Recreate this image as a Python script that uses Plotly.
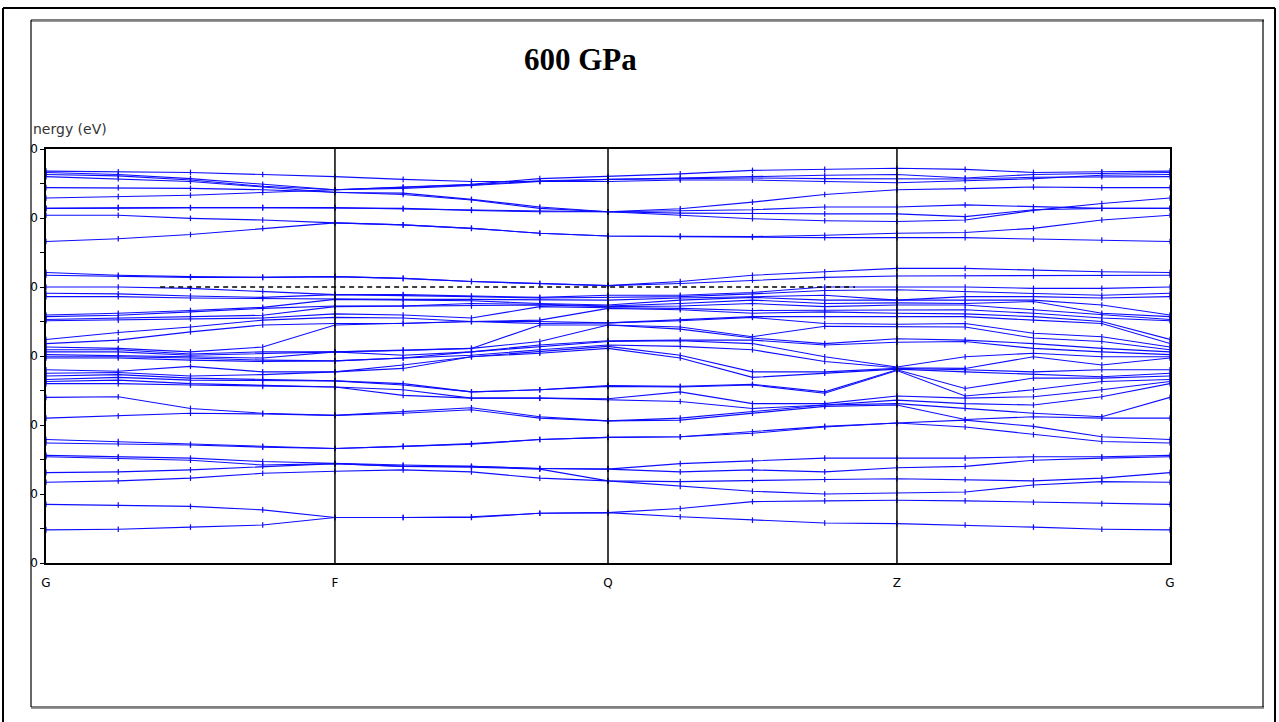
import plotly.graph_objects as go

# ---------------- data ----------------
title_text = "600 GPa"
y_title = "nergy (eV)"
kpoint_labels = ["G", "F", "Q", "Z", "G"]
kpoint_pos = [0.0, 1.0, 1.945, 2.945, 3.89]
k_grid = [0.0, 0.25, 0.5, 0.75, 1.0, 1.236, 1.4725, 1.709, 1.945,
          2.195, 2.445, 2.695, 2.945, 3.181, 3.4175, 3.654, 3.89]
fermi_level = 0.0
fermi_k_extent = [0.395, 2.80]
energy_ticks = [-40, -30, -20, -10, 0, 10, 20]
energy_ticktext = ["0", "0", "0", "0", "0", "0", "0"]

# conduction bands (eV), one list per band along k_grid
c01 = [16.8, 16.7, 16.6, 16.3, 16.0, 15.6, 15.3, 15.3, 15.3, 15.5, 15.5, 15.3, 15.1, 15.4, 15.7, 16.2, 16.3]
c02 = [16.6, 16.3, 15.7, 14.9, 14.1, 14.5, 14.9, 15.7, 16.0, 16.4, 16.9, 17.05, 17.2, 17.05, 16.6, 16.7, 16.8]
c03 = [16.3, 16.1, 15.5, 14.6, 14.1, 14.4, 14.8, 15.4, 15.6, 15.8, 16.0, 16.2, 16.3, 15.8, 16.3, 16.5, 16.6]
c04 = [16.0, 15.7, 15.3, 14.5, 13.7, 13.6, 12.7, 11.6, 10.9, 11.35, 12.3, 13.4, 14.1, 14.25, 14.5, 14.4, 14.4]
c05 = [14.4, 14.4, 14.3, 14.1, 13.7, 13.4, 12.6, 11.4, 10.9, 11.1, 11.2, 11.6, 11.6, 11.9, 11.6, 11.4, 11.4]
c06 = [12.9, 13.1, 13.3, 13.7, 14.1, 14.3, 14.7, 15.3, 15.6, 15.7, 15.8, 15.7, 15.65, 15.65, 15.9, 16.0, 16.0]
c07 = [11.4, 11.5, 11.5, 11.5, 11.5, 11.3, 11.2, 11.0, 10.9, 10.7, 10.6, 10.6, 10.6, 10.2, 11.2, 11.4, 11.4]
c08 = [11.4, 11.5, 11.5, 11.5, 11.5, 11.4, 11.1, 10.9, 10.9, 10.4, 9.9, 9.6, 9.5, 9.7, 11.1, 12.1, 12.9]
c09 = [10.4, 10.4, 9.95, 9.7, 9.3, 9.0, 8.5, 7.8, 7.4, 7.4, 7.3, 7.5, 7.8, 7.9, 8.5, 9.7, 10.4]
c10 = [6.6, 7.0, 7.6, 8.5, 9.3, 9.0, 8.5, 7.8, 7.4, 7.3, 7.2, 7.15, 7.15, 7.15, 6.95, 6.8, 6.6]
c11 = [2.1, 1.7, 1.5, 1.4, 1.5, 1.25, 0.8, 0.5, 0.2, 0.8, 1.7, 2.2, 2.7, 2.7, 2.4, 2.2, 2.1]
c12 = [1.7, 1.5, 1.4, 1.4, 1.5, 1.25, 0.8, 0.5, 0.2, 0.5, 1.0, 1.4, 1.6, 1.6, 1.6, 1.7, 1.7]

# valence band energies (eV) read at each k point of k_grid
v_k00 = [0.0, -0.9, -1.4, -4.05, -4.3, -4.7, -4.9, -7.6, -8.2, -8.7, -9.1, -9.4, -9.8, -10.1, -10.3, -12.0, -12.5, -12.9, -13.4, -13.7, -14.0, -16.0, -19.0, -22.1, -22.6, -24.4, -24.6, -26.9, -28.3, -31.5, -35.2]
v_k01 = [0.0, -1.0, -1.4, -3.8, -4.1, -4.5, -4.8, -6.6, -7.7, -8.9, -9.1, -9.4, -9.9, -10.1, -10.3, -12.2, -12.4, -12.7, -13.1, -13.5, -14.0, -15.9, -18.7, -22.4, -22.7, -24.6, -24.8, -26.8, -28.1, -31.6, -35.1]
v_k02 = [-0.2, -1.3, -1.6, -3.4, -3.6, -4.3, -4.6, -5.8, -6.5, -9.4, -9.7, -9.9, -10.1, -10.3, -10.6, -11.5, -12.9, -13.2, -13.5, -14.0, -14.2, -17.6, -18.3, -22.8, -22.9, -24.8, -25.1, -26.5, -27.7, -31.8, -34.8]
v_k03 = [-0.6, -1.5, -1.7, -2.95, -3.1, -4.1, -4.5, -4.8, -5.5, -8.7, -9.4, -9.6, -10.3, -10.6, -10.8, -12.3, -12.7, -13.4, -13.5, -14.2, -14.4, -18.3, -18.4, -23.1, -23.2, -25.3, -25.8, -26.0, -27.0, -32.3, -34.5]
v_k04 = [-1.1, -1.1, -1.8, -1.8, -2.75, -2.85, -3.9, -4.4, -5.3, -5.5, -9.4, -9.4, -9.4, -10.7, -10.7, -12.3, -12.3, -13.6, -13.6, -14.5, -14.5, -18.6, -18.6, -23.4, -23.4, -25.6, -25.6, -25.6, -26.7, -33.4, -33.4]
v_k05 = [-1.1, -1.2, -1.8, -1.9, -2.75, -2.75, -4.05, -4.5, -5.3, -5.3, -9.1, -9.2, -9.9, -10.3, -10.3, -11.3, -11.8, -14.0, -14.2, -14.9, -15.7, -18.1, -18.3, -23.1, -23.1, -25.8, -26.0, -26.0, -26.5, -33.4, -33.4]
v_k06 = [-1.3, -1.4, -1.8, -2.0, -2.4, -2.75, -4.5, -5.0, -5.0, -5.0, -8.9, -8.9, -9.4, -9.4, -9.9, -10.1, -10.1, -15.2, -15.2, -16.1, -16.1, -17.5, -17.8, -22.7, -22.8, -26.0, -26.0, -26.1, -26.8, -33.3, -33.4]
v_k07 = [-1.5, -1.6, -1.8, -2.4, -2.5, -2.6, -2.85, -4.8, -5.0, -5.3, -5.5, -7.9, -8.4, -8.6, -9.1, -9.4, -9.6, -14.9, -14.9, -16.1, -16.1, -18.8, -19.0, -22.1, -22.1, -26.3, -26.3, -26.4, -27.7, -32.8, -32.8]
v_k08 = [-1.2, -1.45, -1.9, -2.6, -2.75, -2.85, -3.0, -3.1, -5.2, -5.2, -5.5, -5.5, -7.8, -7.9, -8.4, -8.6, -8.9, -14.3, -14.4, -16.2, -16.3, -19.4, -19.4, -21.8, -21.8, -26.4, -26.4, -28.1, -28.1, -32.7, -32.7]
v_k09 = [-1.2, -1.4, -1.6, -1.9, -2.4, -2.75, -3.1, -3.3, -4.8, -4.9, -5.8, -6.1, -7.7, -7.8, -8.6, -9.9, -10.3, -14.4, -14.5, -15.2, -16.6, -19.0, -19.3, -21.7, -21.7, -25.6, -26.8, -28.2, -28.9, -32.1, -33.3]
v_k10 = [-0.8, -1.0, -1.4, -1.5, -1.9, -2.4, -3.4, -3.8, -4.3, -4.4, -7.2, -7.4, -7.7, -8.2, -9.1, -12.3, -13.1, -14.1, -14.2, -16.9, -17.6, -18.1, -18.3, -21.0, -21.2, -25.2, -26.5, -28.0, -29.6, -31.1, -33.8]
v_k11 = [0.0, -0.5, -1.2, -1.9, -2.4, -2.85, -3.4, -3.6, -4.3, -5.3, -5.7, -8.2, -8.4, -10.1, -10.8, -12.3, -12.5, -15.2, -15.4, -16.9, -17.1, -17.1, -17.3, -20.2, -20.3, -24.8, -26.8, -27.9, -30.0, -31.0, -34.2]
v_k12 = [0.0, -0.4, -1.9, -1.9, -2.3, -2.6, -3.3, -3.8, -4.35, -5.4, -5.7, -7.5, -8.0, -11.6, -11.7, -11.8, -11.9, -12.0, -12.1, -15.8, -16.4, -16.9, -17.1, -19.7, -19.7, -24.8, -26.2, -27.8, -29.9, -30.9, -34.3]
v_k13 = [0.0, -0.7, -1.4, -1.9, -2.4, -2.6, -3.3, -3.9, -4.3, -5.3, -5.8, -7.7, -7.9, -10.1, -11.8, -12.0, -12.3, -14.7, -15.8, -16.1, -16.9, -17.6, -19.2, -19.3, -20.3, -24.8, -26.0, -27.9, -29.7, -31.0, -34.5]
v_k14 = [-0.2, -0.9, -1.4, -1.9, -2.1, -3.3, -3.8, -4.3, -4.8, -6.7, -7.4, -8.2, -8.9, -9.6, -10.1, -12.3, -12.7, -13.2, -14.9, -15.9, -17.1, -18.3, -18.8, -20.2, -21.4, -24.6, -25.1, -28.1, -28.7, -31.2, -34.8]
v_k15 = [-0.2, -1.2, -1.6, -2.6, -3.8, -4.05, -4.5, -5.0, -5.3, -7.2, -7.9, -8.9, -9.4, -10.1, -11.3, -12.0, -13.0, -13.2, -13.7, -14.9, -15.9, -18.8, -19.0, -21.7, -22.4, -24.6, -24.8, -27.7, -28.2, -31.4, -35.1]
v_k16 = [0.0, -0.9, -1.4, -4.05, -4.3, -4.7, -4.9, -7.6, -8.2, -8.7, -9.1, -9.4, -9.8, -10.1, -10.3, -12.0, -12.5, -12.9, -13.4, -13.7, -14.0, -16.0, -19.0, -22.1, -22.6, -24.4, -24.6, -26.9, -28.3, -31.5, -35.2]

conduction_bands = [c01, c02, c03, c04, c05, c06, c07, c08, c09, c10, c11, c12]
valence_at_k = [v_k00, v_k01, v_k02, v_k03, v_k04, v_k05, v_k06, v_k07, v_k08,
                v_k09, v_k10, v_k11, v_k12, v_k13, v_k14, v_k15, v_k16]

# band index ordering: n-th band = n-th energy at every k point
sorted_valence = [sorted(v) for v in valence_at_k]
valence_bands = [[sv[i] for sv in sorted_valence] for i in range(len(v_k00))]
bands = conduction_bands + valence_bands

# ---------------- figure ----------------
W, H = 1279, 722
L, R, T, B = 46, 1170, 149, 563  # plot area in pixels


def px(x):
    return (x - L) / (R - L)


def py(y):
    return (B - y) / (B - T)


blue = "#0d0dff"
fig = go.Figure()
for band in bands:
    fig.add_trace(go.Scatter(
        x=k_grid, y=band, mode="lines+markers",
        line=dict(color=blue, width=1.1),
        marker=dict(symbol="line-ns", size=4, color=blue,
                    line=dict(color=blue, width=1.2)),
        hoverinfo="skip", showlegend=False))

fig.add_trace(go.Scatter(
    x=fermi_k_extent, y=[fermi_level, fermi_level], mode="lines",
    line=dict(color="black", width=1.5, dash="5px,4px"),
    hoverinfo="skip", showlegend=False))

shapes = []
for kp in kpoint_pos[1:-1]:
    shapes.append(dict(type="line", xref="x", yref="paper", x0=kp, x1=kp,
                       y0=0, y1=1, line=dict(color="black", width=1.5)))


def seg(x0, y0, x1, y1, color="black", width=1.0):
    shapes.append(dict(type="line", xref="paper", yref="paper",
                       x0=px(x0), y0=py(y0), x1=px(x1), y1=py(y1),
                       line=dict(color=color, width=width)))


# outer document frame
seg(3, 8, 1275, 8, width=2)
seg(3, 8, 3, 730, width=2)
seg(1275, 8, 1275, 730, width=2)
# inner frame with shadow
seg(31, 20, 1264, 20, width=1.2)
seg(31, 21.5, 1264, 21.5, color="#9a9a9a", width=1)
seg(31, 20, 31, 707, width=1.2)
seg(1263, 20, 1263, 707, width=1.2)
seg(31, 707, 1264, 707, width=1.2)
seg(31, 708.5, 1264, 708.5, color="#9a9a9a", width=1)

annotations = [
    dict(text="<b>%s</b>" % title_text, xref="paper", yref="paper",
         x=px(580), y=py(60), xanchor="center", yanchor="middle",
         showarrow=False,
         font=dict(family="Liberation Serif", size=31, color="black")),
    dict(text=y_title, xref="paper", yref="paper",
         x=px(31), y=py(129), xanchor="left", yanchor="middle",
         showarrow=False,
         font=dict(family="DejaVu Sans", size=14, color="#333333")),
]

fig.update_layout(
    width=W, height=H, autosize=False,
    margin=dict(l=L, r=W - R, t=T, b=H - B, pad=0),
    paper_bgcolor="white", plot_bgcolor="white",
    shapes=shapes, annotations=annotations,
    xaxis=dict(range=[kpoint_pos[0], kpoint_pos[-1]],
               tickvals=kpoint_pos, ticktext=kpoint_labels,
               ticks="", showgrid=False, zeroline=False,
               showline=True, linecolor="black", linewidth=1.5, mirror=True,
               ticklabelstandoff=8,
               tickfont=dict(family="DejaVu Sans", size=12, color="black")),
    yaxis=dict(range=[-40, 20], tickvals=energy_ticks,
               ticktext=energy_ticktext,
               ticks="outside", ticklen=4, tickcolor="black", tickwidth=1,
               minor=dict(dtick=5, ticks="outside", ticklen=4,
                          tickcolor="black", tickwidth=1),
               showgrid=False, zeroline=False,
               showline=True, linecolor="black", linewidth=1.5, mirror=True,
               tickfont=dict(family="DejaVu Sans", size=12, color="black")),
)

fig.write_html("out.html",
               config={"displayModeBar": False},
               post_script="document.body.style.margin='0px';")
